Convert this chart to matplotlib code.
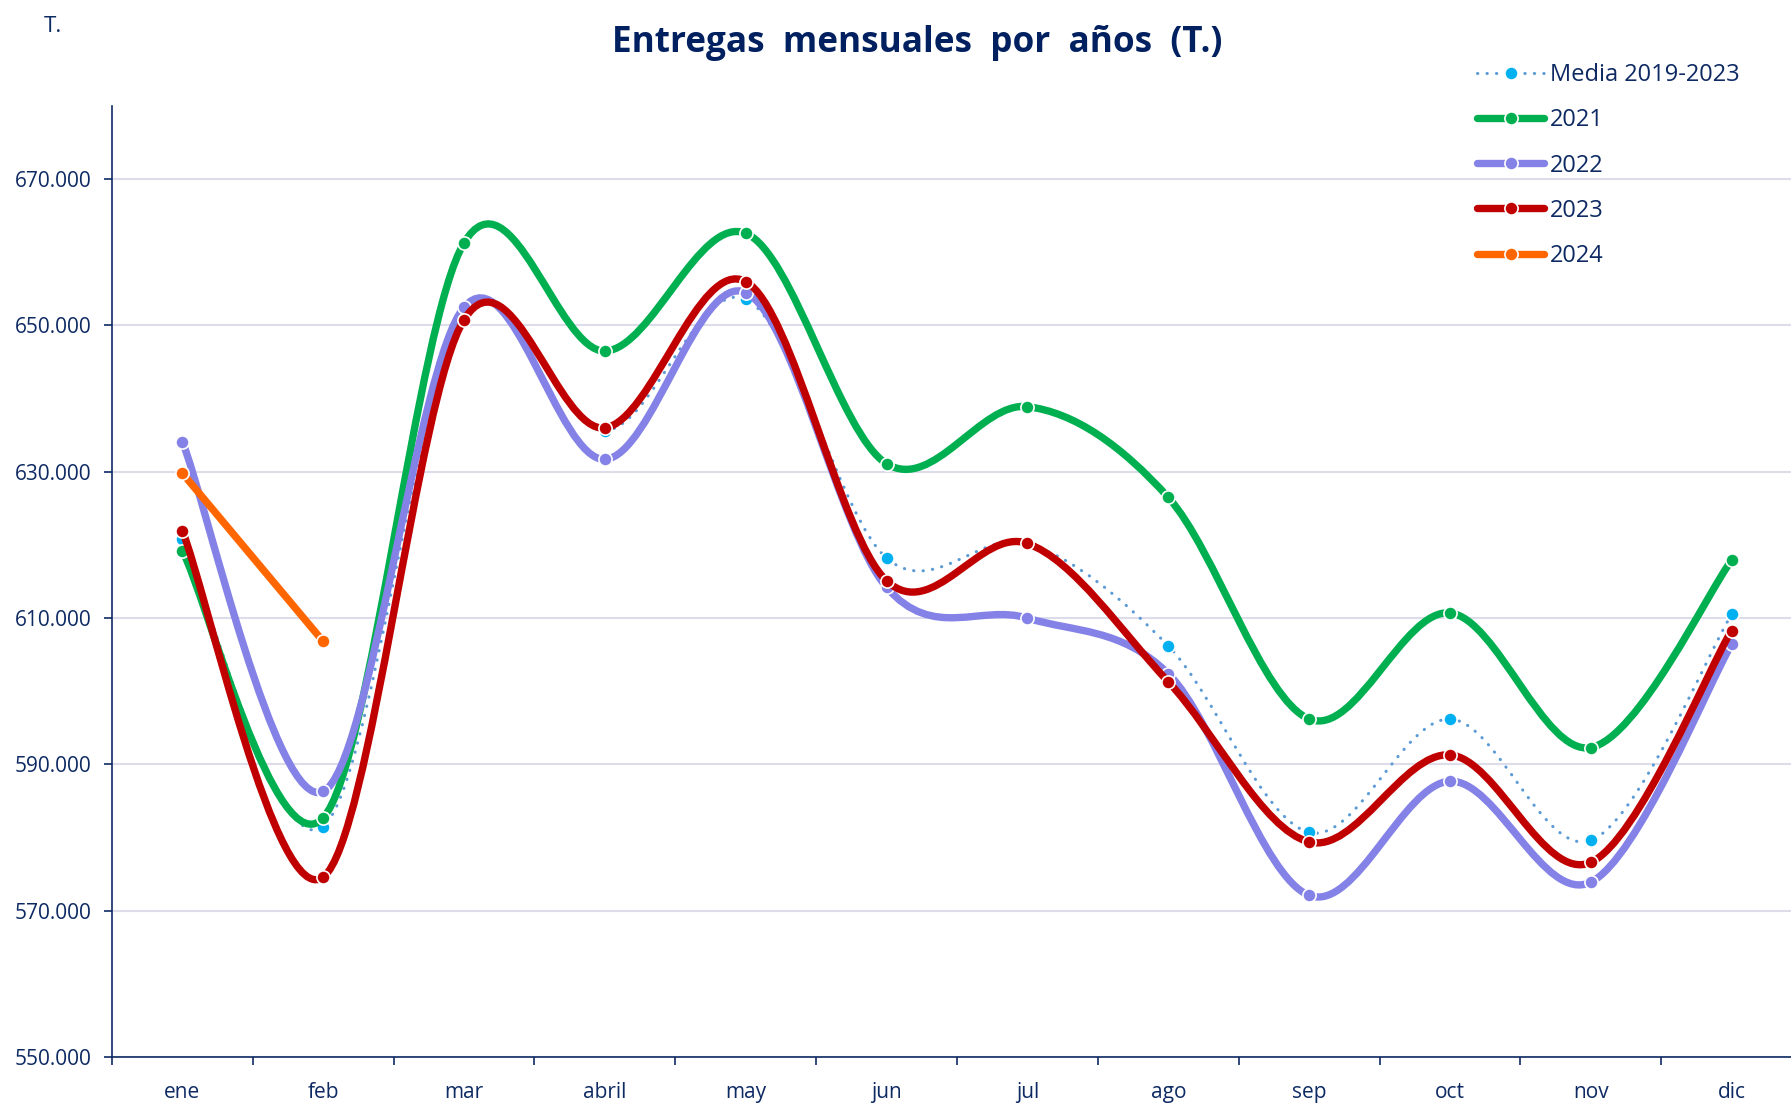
import matplotlib
matplotlib.use('Agg')
import matplotlib.pyplot as plt
from matplotlib.path import Path
from matplotlib.patches import PathPatch
from matplotlib.lines import Line2D

plt.rcParams['font.family'] = ['Open Sans', 'DejaVu Sans']

## Data (thousand tonnes) ##
months = ['ene', 'feb', 'mar', 'abril', 'may', 'jun', 'jul', 'ago', 'sep', 'oct', 'nov', 'dic']
media_2019_2023 = [620.8, 581.5, 651.6, 635.6, 653.6, 618.2, 620.2, 606.2, 580.7, 596.2, 579.6, 610.5]
y2021 = [619.2, 582.7, 661.3, 646.5, 662.6, 631.1, 638.9, 626.5, 596.2, 610.7, 592.3, 617.9]
y2022 = [634.1, 586.3, 652.5, 631.7, 654.5, 614.2, 610.0, 602.4, 572.1, 587.7, 573.9, 606.4]
y2023 = [621.9, 574.6, 650.8, 636.0, 656.0, 615.1, 620.2, 601.3, 579.4, 591.3, 576.6, 608.3]
y2024 = [629.8, 606.8]

navy = '#0E2A63'
series = [
    ('Media 2019-2023', media_2019_2023, '#5B9BD5', '#00B0F0', 'dots'),
    ('2021', y2021, '#00B050', '#00B050', 'solid'),
    ('2022', y2022, '#8482E6', '#8482E6', 'solid'),
    ('2023', y2023, '#C00000', '#C00000', 'solid'),
    ('2024', y2024, '#FF6600', '#FF6600', 'solid'),
]


def smooth_path(xs, ys):
    # Excel style smoothed line: Catmull-Rom as cubic bezier segments
    n = len(xs)
    verts = [(xs[0], ys[0])]
    codes = [Path.MOVETO]
    for i in range(n - 1):
        i0 = max(i - 1, 0)
        i3 = min(i + 2, n - 1)
        c1 = (xs[i] + (xs[i + 1] - xs[i0]) / 6, ys[i] + (ys[i + 1] - ys[i0]) / 6)
        c2 = (xs[i + 1] - (xs[i3] - xs[i]) / 6, ys[i + 1] - (ys[i3] - ys[i]) / 6)
        verts += [c1, c2, (xs[i + 1], ys[i + 1])]
        codes += [Path.CURVE4] * 3
    return Path(verts, codes)


fig = plt.figure(figsize=(17.91, 11.04), dpi=100)
ax = fig.add_axes([112 / 1791, 1 - 1057 / 1104, (1802 - 112) / 1791, (1057 - 106) / 1104])

lw_thick = 5.3
dots = (0, (0.1, 3.0))
mk = dict(marker='o', ms=9.5, mec='white', mew=1.2)
handles = []
for z, (name, vals, lcol, mcol, style) in enumerate(series):
    xs = list(range(len(vals)))
    ys = [v * 1000 for v in vals]
    if style == 'dots':
        patch = PathPatch(smooth_path(xs, ys), fill=False, edgecolor=lcol, lw=2.2,
                          linestyle=dots, capstyle='round', zorder=2 + z)
        h = Line2D([], [], color=lcol, lw=2.2, linestyle=dots, dash_capstyle='round',
                   mfc=mcol, **mk)
    else:
        patch = PathPatch(smooth_path(xs, ys), fill=False, edgecolor=lcol, lw=lw_thick,
                          capstyle='round', joinstyle='round', zorder=2 + z)
        h = Line2D([], [], color=lcol, lw=lw_thick, solid_capstyle='round', mfc=mcol, **mk)
    ax.add_patch(patch)
    ax.plot(xs, ys, linestyle='none', color=mcol, zorder=2 + z, **mk)
    handles.append(h)

ax.set_xlim(-0.5, 11.5)
ax.set_ylim(550000, 680000)
ax.set_yticks(range(550000, 680000, 20000))
ax.set_yticklabels([f'{v // 1000}.000' for v in range(550000, 680000, 20000)])
ax.set_xticks([i - 0.5 for i in range(13)])
ax.set_xticklabels([])
ax.set_xticks(range(12), minor=True)
ax.set_xticklabels(months, minor=True)
ax.tick_params(axis='x', which='major', length=6, width=1.2, color=navy)
ax.tick_params(axis='x', which='minor', length=0, pad=18, labelsize=15, labelcolor=navy)
ax.tick_params(axis='y', length=6, width=1.2, color=navy, pad=8.5, labelsize=15, labelcolor=navy)

ax.grid(axis='y', color='#DCDCEA', lw=1.5)
ax.set_axisbelow(True)
for s in ['top', 'right']:
    ax.spines[s].set_visible(False)
for s in ['left', 'bottom']:
    ax.spines[s].set_color(navy)
    ax.spines[s].set_linewidth(1.2)

fig.text(917 / 1791, 1 - 43 / 1104, 'Entregas  mensuales  por  años  (T.)', ha='center', va='center',
         fontsize=25.3, fontweight='bold', color='#002060')
fig.text(53 / 1791, 1 - 26 / 1104, 'T.', ha='center', va='center', fontsize=16, color=navy)

leg = fig.legend(handles, [s[0] for s in series], loc='upper left',
                 bbox_to_anchor=(1477 / 1791, 1 - 63 / 1104), frameon=False,
                 fontsize=17, handlelength=2.85, handletextpad=0.25, labelspacing=0.9,
                 borderaxespad=0, borderpad=0)
for t in leg.get_texts():
    t.set_color(navy)

fig.savefig('out.png', dpi=100)
